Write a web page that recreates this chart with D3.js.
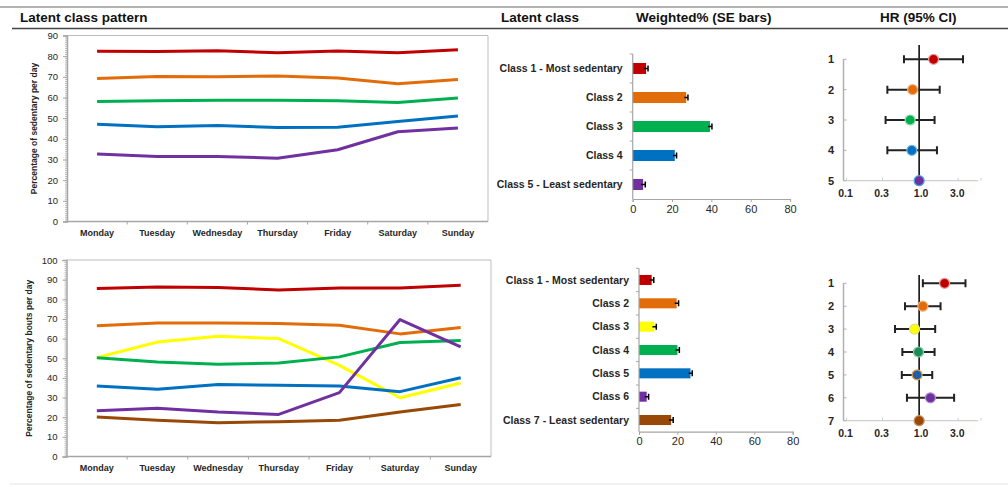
<!DOCTYPE html>
<html>
<head>
<meta charset="utf-8">
<script src="https://cdn.jsdelivr.net/npm/d3@7"></script>
<style>
  body { margin: 0; background: #fff; }
  svg { display: block; font-family: "Liberation Sans", Arial, sans-serif; }
</style>
</head>
<body>
<svg id="chart" width="1008" height="487"></svg>
<script>
// Data
const days = ["Monday", "Tuesday", "Wednesday", "Thursday", "Friday", "Saturday", "Sunday"];

const topClasses = ["Class 1 - Most sedentary", "Class 2", "Class 3", "Class 4", "Class 5 - Least sedentary"];
const topColors = ["#c00000", "#e36c0a", "#00b050", "#0070c0", "#7030a0"];
const topPattern = [
    [82.4, 82.3, 82.6, 81.6, 82.5, 81.6, 83.1],
    [69.2, 70.2, 70.0, 70.4, 69.4, 66.6, 68.7],
    [58.1, 58.4, 58.7, 58.7, 58.4, 57.6, 59.7],
    [47.1, 45.8, 46.4, 45.5, 45.6, 48.4, 51.0],
    [32.7, 31.5, 31.5, 30.6, 34.7, 43.4, 45.2]
];
const topWeighted = [6.8, 27.2, 39.3, 21.4, 5.3];
const topSE = [1.0, 0.9, 1.0, 0.9, 1.1];
const topHR = [1.55, 0.82, 0.76, 0.80, 1.0];
const topLow = [0.63, 0.38, 0.36, 0.38, null];
const topHigh = [3.8, 1.87, 1.6, 1.72, null];

const botClasses = ["Class 1 - Most sedentary", "Class 2", "Class 3", "Class 4", "Class 5", "Class 6", "Class 7 - Least sedentary"];
const botColors = ["#c00000", "#e36c0a", "#ffff00", "#00b050", "#0070c0", "#7030a0", "#984807"];
const botPattern = [
    [85.5, 86.3, 86.0, 84.7, 85.7, 85.8, 87.2],
    [66.5, 68.0, 68.0, 67.7, 66.8, 62.4, 65.6],
    [50.3, 58.3, 61.2, 60.0, 46.4, 29.9, 37.4],
    [50.2, 48.1, 46.9, 47.6, 50.7, 58.0, 59.0],
    [35.9, 34.2, 36.7, 36.2, 35.9, 33.0, 40.1],
    [23.3, 24.5, 22.6, 21.4, 32.5, 69.7, 55.8],
    [20.1, 18.4, 17.2, 17.7, 18.5, 22.6, 26.5]
];
const botWeighted = [6.6, 19.6, 8.0, 20.0, 26.8, 4.0, 16.7];
const botSE = [1.1, 1.0, 1.0, 1.0, 0.9, 1.0, 1.1];
const botHR = [2.17, 1.12, 0.87, 0.98, 0.94, 1.41, 1.0];
const botLow = [1.12, 0.65, 0.48, 0.6, 0.59, 0.69, null];
const botHigh = [4.1, 1.92, 1.63, 1.6, 1.49, 2.9, null];

const hrTicks = [0.1, 0.3, 1.0, 3.0];
const headers = [
    { text: "Latent class pattern", x: 20 },
    { text: "Latent class", x: 501 },
    { text: "Weighted%  (SE bars)", x: 636 },
    { text: "HR (95% CI)", x: 880 }
];

const svg = d3.select("#chart");
const axisGray = "#a6a6a6";
const textDark = "#262626";

// Header
svg.append("line").attr("x1", 0).attr("x2", 1008).attr("y1", 7).attr("y2", 7)
    .attr("stroke", "#666").attr("stroke-width", 1.2);
svg.append("line").attr("x1", 12).attr("x2", 1008).attr("y1", 28.5).attr("y2", 28.5)
    .attr("stroke", "#444").attr("stroke-width", 1.6);
svg.append("line").attr("x1", 10).attr("x2", 1008).attr("y1", 484).attr("y2", 484)
    .attr("stroke", "#e4e4e4").attr("stroke-width", 1);

svg.selectAll("text.header")
    .data(headers)
    .join("text")
    .attr("class", "header")
    .attr("x", d => d.x)
    .attr("y", 22)
    .attr("font-size", "13.5px")
    .attr("font-weight", "bold")
    .attr("fill", "#111")
    .text(d => d.text);

// Line chart of class patterns by day
function drawPattern(cfg) {
    const g = svg.append("g");
    const x = d3.scalePoint().domain(days).range([cfg.left, cfg.right]).padding(0.5);
    const xb = d3.scaleBand().domain(days).range([cfg.left, cfg.right]);
    const y = d3.scaleLinear().domain([0, cfg.max]).range([cfg.bottom, cfg.top]);

    // frame
    g.append("path")
        .attr("d", `M${cfg.left},${cfg.top}H${cfg.right}V${cfg.bottom}`)
        .attr("fill", "none").attr("stroke", "#bdbdbd").attr("stroke-width", 1);

    // minor ticks
    g.append("g")
        .attr("transform", `translate(${cfg.left},0)`)
        .call(d3.axisLeft(y).tickValues(d3.range(0, cfg.max + 1, 1)).tickSize(2).tickFormat(""))
        .call(a => a.select(".domain").remove())
        .call(a => a.selectAll("line").attr("stroke", "#b8b8b8"));

    const yAxis = g.append("g")
        .attr("transform", `translate(${cfg.left},0)`)
        .call(d3.axisLeft(y).tickValues(d3.range(0, cfg.max + 1, 10)).tickSize(4).tickPadding(5));
    yAxis.select(".domain").attr("stroke", axisGray).attr("stroke-width", 1.5);
    yAxis.selectAll("line").attr("stroke", axisGray);
    yAxis.selectAll("text").attr("font-size", "9.5px").attr("fill", textDark)
        .attr("font-family", "'Liberation Sans', Arial, sans-serif");

    // x axis
    g.append("line")
        .attr("x1", cfg.left).attr("x2", cfg.right)
        .attr("y1", cfg.bottom).attr("y2", cfg.bottom)
        .attr("stroke", axisGray).attr("stroke-width", 1.5);
    g.selectAll("line.xt")
        .data(days.slice(1))
        .join("line")
        .attr("class", "xt")
        .attr("x1", d => xb(d)).attr("x2", d => xb(d))
        .attr("y1", cfg.bottom).attr("y2", cfg.bottom + 3)
        .attr("stroke", axisGray);
    g.selectAll("text.day")
        .data(days)
        .join("text")
        .attr("class", "day")
        .attr("x", d => x(d))
        .attr("y", cfg.bottom + 14)
        .attr("text-anchor", "middle")
        .attr("font-size", "9px")
        .attr("font-weight", "bold")
        .attr("fill", textDark)
        .text(d => d);

    // y title
    g.append("text")
        .attr("transform", `translate(${cfg.titleX},${(cfg.top + cfg.bottom) / 2}) rotate(-90)`)
        .attr("text-anchor", "middle")
        .attr("font-size", "8.5px")
        .attr("font-weight", "bold")
        .attr("fill", textDark)
        .text(cfg.title);

    const line = d3.line()
        .x((d, i) => x(days[i]))
        .y(d => y(d));

    g.selectAll("path.series")
        .data(cfg.values)
        .join("path")
        .attr("class", "series")
        .attr("d", d => line(d))
        .attr("fill", "none")
        .attr("stroke", (d, i) => cfg.colors[i])
        .attr("stroke-width", 3)
        .attr("stroke-linejoin", "round");
}

// Horizontal bar chart of weighted % with SE bars
function drawBars(cfg) {
    const g = svg.append("g");
    const x = d3.scaleLinear().domain([0, 80]).range([cfg.left, cfg.right]);
    const y = d3.scaleBand().domain(cfg.classes).range([cfg.top, cfg.bottom])
        .paddingInner(cfg.pad).paddingOuter(cfg.pad / 2);

    g.selectAll("rect")
        .data(cfg.values)
        .join("rect")
        .attr("x", x(0))
        .attr("y", (d, i) => y(cfg.classes[i]))
        .attr("width", d => x(d) - x(0))
        .attr("height", y.bandwidth())
        .attr("fill", (d, i) => cfg.colors[i]);

    // SE bars
    cfg.values.forEach((v, i) => {
        const cy = y(cfg.classes[i]) + y.bandwidth() / 2;
        const x1 = x(v - cfg.se[i]), x2 = x(v + cfg.se[i]);
        g.append("path")
            .attr("d", `M${x1},${cy}H${x2}M${x2},${cy - 3}V${cy + 3}`)
            .attr("stroke", "#000").attr("stroke-width", 1.5).attr("fill", "none");
    });

    const xAxis = g.append("g")
        .attr("transform", `translate(0,${cfg.bottom})`)
        .call(d3.axisBottom(x).tickValues([0, 20, 40, 60, 80]).tickSize(3).tickPadding(3));
    xAxis.select(".domain").attr("stroke", axisGray).attr("stroke-width", 1.2);
    xAxis.selectAll("line").attr("stroke", axisGray);
    xAxis.selectAll("text").attr("font-size", "11px").attr("fill", textDark)
        .attr("font-family", "'Liberation Sans', Arial, sans-serif");

    const yb = d3.scaleBand().domain(cfg.classes).range([cfg.top, cfg.bottom]);
    g.append("line")
        .attr("x1", x(0)).attr("x2", x(0))
        .attr("y1", cfg.top).attr("y2", cfg.bottom)
        .attr("stroke", axisGray).attr("stroke-width", 1.2);
    g.selectAll("line.yt")
        .data(cfg.classes)
        .join("line")
        .attr("class", "yt")
        .attr("x1", x(0) - 3).attr("x2", x(0))
        .attr("y1", d => yb(d)).attr("y2", d => yb(d))
        .attr("stroke", axisGray);

    g.selectAll("text.cls")
        .data(cfg.classes)
        .join("text")
        .attr("class", "cls")
        .attr("x", x(0) - 10)
        .attr("y", d => y(d) + y.bandwidth() / 2)
        .attr("dy", "0.35em")
        .attr("text-anchor", "end")
        .attr("font-size", "10.5px")
        .attr("font-weight", "bold")
        .attr("fill", textDark)
        .text(d => d);
}

// Forest plot of hazard ratios
function drawForest(cfg) {
    const g = svg.append("g");
    const x = d3.scaleLog().domain([0.1, 6]).range([843.5, 978]);
    const labels = cfg.hr.map((d, i) => String(i + 1));
    const y = d3.scalePoint().domain(labels).range([cfg.top, cfg.bottom]);

    // axes
    g.append("line")
        .attr("x1", x(0.1)).attr("x2", x(0.1))
        .attr("y1", cfg.top).attr("y2", cfg.bottom)
        .attr("stroke", "#b0b0b0").attr("stroke-width", 1.5);
    g.append("line")
        .attr("x1", x(0.1)).attr("x2", x(6))
        .attr("y1", cfg.bottom).attr("y2", cfg.bottom)
        .attr("stroke", "#d0d0d0").attr("stroke-width", 1.2);
    g.selectAll("line.yt")
        .data(labels)
        .join("line")
        .attr("class", "yt")
        .attr("x1", x(0.1)).attr("x2", x(0.1) + 3)
        .attr("y1", d => y(d)).attr("y2", d => y(d))
        .attr("stroke", "#b0b0b0");
    g.selectAll("line.xt")
        .data(hrTicks.concat([6]))
        .join("line")
        .attr("class", "xt")
        .attr("x1", d => x(d) + 3).attr("x2", d => x(d) + 3)
        .attr("y1", cfg.bottom - 3).attr("y2", cfg.bottom)
        .attr("stroke", "#d0d0d0");

    g.selectAll("text.yl")
        .data(labels)
        .join("text")
        .attr("class", "yl")
        .attr("x", 831)
        .attr("y", d => y(d))
        .attr("dy", "0.35em")
        .attr("text-anchor", "middle")
        .attr("font-size", "11px")
        .attr("font-weight", "bold")
        .attr("fill", textDark)
        .text(d => d);
    g.selectAll("text.xl")
        .data(hrTicks)
        .join("text")
        .attr("class", "xl")
        .attr("x", d => x(d) + 2)
        .attr("y", cfg.bottom + 16)
        .attr("text-anchor", "middle")
        .attr("font-size", "10.5px")
        .attr("font-weight", "bold")
        .attr("fill", textDark)
        .text(d => d.toFixed(1));

    // reference line at HR = 1
    g.append("line")
        .attr("x1", x(1)).attr("x2", x(1))
        .attr("y1", cfg.refTop).attr("y2", cfg.bottom)
        .attr("stroke", "#111").attr("stroke-width", 1.6);

    // CIs
    cfg.hr.forEach((v, i) => {
        if (cfg.low[i] == null) return;
        const cy = y(labels[i]);
        const x1 = x(cfg.low[i]), x2 = x(cfg.high[i]);
        g.append("path")
            .attr("d", `M${x1},${cy}H${x2}M${x1},${cy - 4}V${cy + 4}M${x2},${cy - 4}V${cy + 4}`)
            .attr("stroke", "#222").attr("stroke-width", 2).attr("fill", "none");
    });

    g.selectAll("circle")
        .data(cfg.hr)
        .join("circle")
        .attr("cx", d => x(d))
        .attr("cy", (d, i) => y(labels[i]))
        .attr("r", 5)
        .attr("fill", (d, i) => cfg.colors[i])
        .attr("stroke", (d, i) => cfg.rings[i])
        .attr("stroke-width", 1.2);
}

drawPattern({
    left: 67, right: 488, top: 35.5, bottom: 221.5, max: 90,
    values: topPattern, colors: topColors, titleX: 37,
    title: "Percentage of sedentary per day"
});
drawPattern({
    left: 66.5, right: 491, top: 260, bottom: 456.5, max: 100,
    values: botPattern, colors: botColors, titleX: 32,
    title: "Percentage of sedentary bouts per day"
});

drawBars({
    left: 632.7, right: 790, top: 54, bottom: 199, pad: 0.62,
    classes: topClasses, values: topWeighted, se: topSE, colors: topColors
});
drawBars({
    left: 639, right: 792.7, top: 268.3, bottom: 431.7, pad: 0.57,
    classes: botClasses, values: botWeighted, se: botSE, colors: botColors
});

drawForest({
    top: 59.3, bottom: 180.7, refTop: 45,
    hr: topHR, low: topLow, high: topHigh, colors: topColors,
    rings: ["#e8a0a0", "#f3b27a", "#8fe0a8", "#7fb4e0", "#4aa3e0"]
});
drawForest({
    top: 283.3, bottom: 420.7, refTop: 275,
    hr: botHR, low: botLow, high: botHigh, colors: ["#c00000", "#e36c0a", "#ffff00", "#1f8a5a", "#1f5fa8", "#7030a0", "#984807"],
    rings: ["#e8a0a0", "#f3b27a", "#e0e080", "#7fd0a0", "#f0a040", "#b090d0", "#c89060"]
});
</script>
</body>
</html>
